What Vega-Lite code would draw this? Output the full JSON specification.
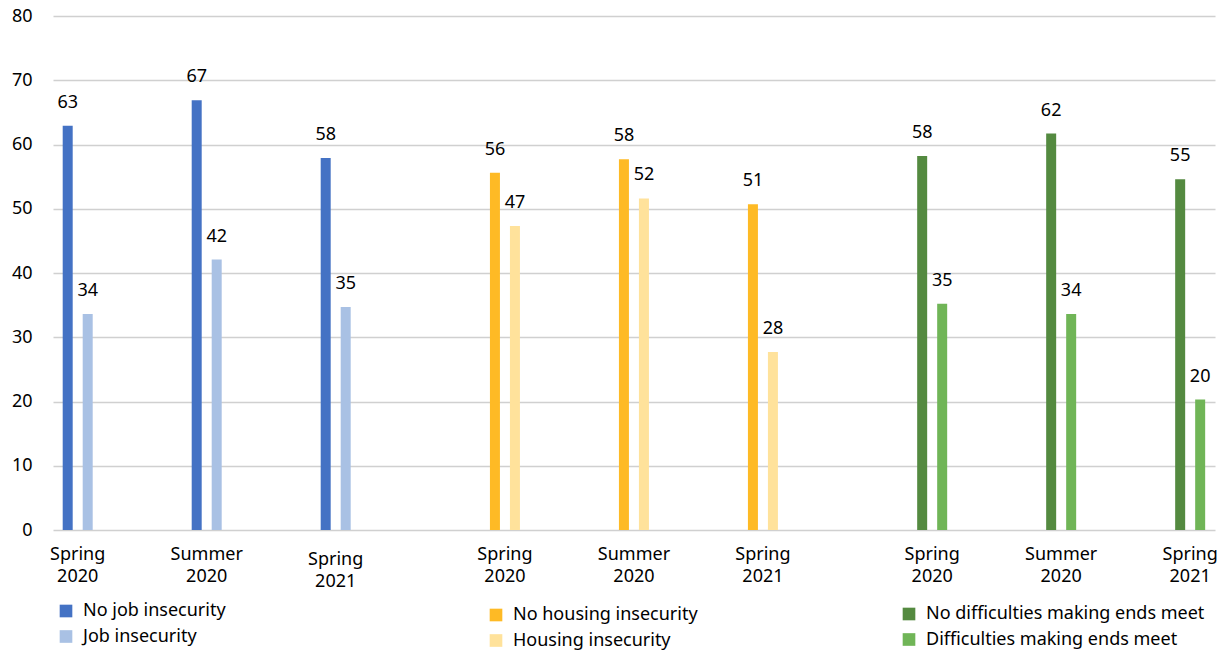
{
  "$schema": "https://vega.github.io/schema/vega-lite/v6.json",
  "width": 1162,
  "height": 514,
  "autosize": "none",
  "padding": {"left": 53, "top": 16, "right": 12, "bottom": 121},
  "background": "white",
  "config": {
    "view": {"stroke": null},
    "font": "Noto Sans",
    "text": {"font": "Noto Sans", "fontSize": 18, "color": "#000000"},
    "axis": {"labelFont": "Noto Sans", "labelFontSize": 18, "labelColor": "#000000"},
    "legend": {"labelFont": "Noto Sans", "labelFontSize": 18, "labelColor": "#000000", "labelLimit": 400}
  },
  "data": {
    "values": [
      {"domain": "job", "period": "Spring 2020", "kind": "no", "slot": 0, "series": "No job insecurity", "value": 62.9},
      {"domain": "job", "period": "Spring 2020", "kind": "yes", "slot": 0, "series": "Job insecurity", "value": 33.6},
      {"domain": "job", "period": "Summer 2020", "kind": "no", "slot": 1, "series": "No job insecurity", "value": 66.9},
      {"domain": "job", "period": "Summer 2020", "kind": "yes", "slot": 1, "series": "Job insecurity", "value": 42.1},
      {"domain": "job", "period": "Spring 2021", "kind": "no", "slot": 2, "series": "No job insecurity", "value": 57.9},
      {"domain": "job", "period": "Spring 2021", "kind": "yes", "slot": 2, "series": "Job insecurity", "value": 34.7},
      {"domain": "housing", "period": "Spring 2020", "kind": "no", "slot": 3.312, "series": "No housing insecurity", "value": 55.6},
      {"domain": "housing", "period": "Spring 2020", "kind": "yes", "slot": 3.312, "series": "Housing insecurity", "value": 47.3},
      {"domain": "housing", "period": "Summer 2020", "kind": "no", "slot": 4.312, "series": "No housing insecurity", "value": 57.7},
      {"domain": "housing", "period": "Summer 2020", "kind": "yes", "slot": 4.312, "series": "Housing insecurity", "value": 51.6},
      {"domain": "housing", "period": "Spring 2021", "kind": "no", "slot": 5.312, "series": "No housing insecurity", "value": 50.7},
      {"domain": "housing", "period": "Spring 2021", "kind": "yes", "slot": 5.312, "series": "Housing insecurity", "value": 27.7},
      {"domain": "ends", "period": "Spring 2020", "kind": "no", "slot": 6.624, "series": "No difficulties making ends meet", "value": 58.2},
      {"domain": "ends", "period": "Spring 2020", "kind": "yes", "slot": 6.624, "series": "Difficulties making ends meet", "value": 35.2},
      {"domain": "ends", "period": "Summer 2020", "kind": "no", "slot": 7.624, "series": "No difficulties making ends meet", "value": 61.7},
      {"domain": "ends", "period": "Summer 2020", "kind": "yes", "slot": 7.624, "series": "Difficulties making ends meet", "value": 33.6},
      {"domain": "ends", "period": "Spring 2021", "kind": "no", "slot": 8.624, "series": "No difficulties making ends meet", "value": 54.6},
      {"domain": "ends", "period": "Spring 2021", "kind": "yes", "slot": 8.624, "series": "Difficulties making ends meet", "value": 20.3}
    ]
  },
  "encoding": {
    "x": {"field": "slot", "type": "quantitative", "scale": {"domain": [-0.1915, 8.8165], "nice": false, "zero": false, "padding": 0}, "axis": null},
    "y": {"field": "value", "type": "quantitative", "scale": {"domain": [0, 80], "nice": false},
      "axis": {"title": null, "values": [0, 10, 20, 30, 40, 50, 60, 70, 80], "grid": true, "gridColor": "#d0d0d0", "gridWidth": 1.3, "domain": false, "ticks": false, "labelPadding": 21}}
  },
  "layer": [
    {
      "transform": [{"filter": "datum.domain == 'job' && datum.kind == 'no'"}],
      "mark": {"type": "bar", "width": 10, "xOffset": -10},
      "encoding": {"color": {"field": "series", "type": "nominal",
        "scale": {"domain": ["No job insecurity", "Job insecurity"], "range": ["#4472C4", "#A9C1E4"]},
        "legend": {"title": null, "orient": "none", "legendX": 4, "legendY": 586, "symbolType": "square", "symbolSize": 160, "symbolStrokeWidth": 0, "labelOffset": 8, "rowPadding": 7.5}}}
    },
    {
      "transform": [{"filter": "datum.domain == 'job' && datum.kind == 'yes'"}],
      "mark": {"type": "bar", "width": 10, "xOffset": 10},
      "encoding": {"color": {"field": "series", "type": "nominal",
        "scale": {"domain": ["No job insecurity", "Job insecurity"], "range": ["#4472C4", "#A9C1E4"]}, "legend": null}}
    },
    {
      "transform": [{"filter": "datum.domain == 'housing' && datum.kind == 'no'"}],
      "mark": {"type": "bar", "width": 10, "xOffset": -10},
      "encoding": {"color": {"field": "series", "type": "nominal",
        "scale": {"domain": ["No housing insecurity", "Housing insecurity"], "range": ["#FEBA25", "#FFE29B"]},
        "legend": {"title": null, "orient": "none", "legendX": 434, "legendY": 590, "symbolType": "square", "symbolSize": 160, "symbolStrokeWidth": 0, "labelOffset": 8, "rowPadding": 7.5}}}
    },
    {
      "transform": [{"filter": "datum.domain == 'housing' && datum.kind == 'yes'"}],
      "mark": {"type": "bar", "width": 10, "xOffset": 10},
      "encoding": {"color": {"field": "series", "type": "nominal",
        "scale": {"domain": ["No housing insecurity", "Housing insecurity"], "range": ["#FEBA25", "#FFE29B"]}, "legend": null}}
    },
    {
      "transform": [{"filter": "datum.domain == 'ends' && datum.kind == 'no'"}],
      "mark": {"type": "bar", "width": 10, "xOffset": -10},
      "encoding": {"color": {"field": "series", "type": "nominal",
        "scale": {"domain": ["No difficulties making ends meet", "Difficulties making ends meet"], "range": ["#548A40", "#70B557"]},
        "legend": {"title": null, "orient": "none", "legendX": 847, "legendY": 589, "symbolType": "square", "symbolSize": 160, "symbolStrokeWidth": 0, "labelOffset": 8, "rowPadding": 7.5}}}
    },
    {
      "transform": [{"filter": "datum.domain == 'ends' && datum.kind == 'yes'"}],
      "mark": {"type": "bar", "width": 10, "xOffset": 10},
      "encoding": {"color": {"field": "series", "type": "nominal",
        "scale": {"domain": ["No difficulties making ends meet", "Difficulties making ends meet"], "range": ["#548A40", "#70B557"]}, "legend": null}}
    },
    {
      "transform": [{"filter": "datum.kind == 'no'"}],
      "mark": {"type": "text", "xOffset": -10, "dy": -18, "baseline": "alphabetic", "align": "center"},
      "encoding": {"text": {"field": "value", "type": "quantitative", "format": ".0f"}}
    },
    {
      "transform": [{"filter": "datum.kind == 'yes'"}],
      "mark": {"type": "text", "xOffset": 10, "dy": -18, "baseline": "alphabetic", "align": "center"},
      "encoding": {"text": {"field": "value", "type": "quantitative", "format": ".0f"}}
    },
    {
      "transform": [{"filter": "datum.kind == 'no' && !(datum.domain == 'job' && datum.period == 'Spring 2021')"}],
      "mark": {"type": "text", "dy": 30, "baseline": "alphabetic", "align": "center", "lineBreak": " ", "lineHeight": 22},
      "encoding": {"y": {"datum": 0}, "text": {"field": "period", "type": "nominal"}}
    },
    {
      "transform": [{"filter": "datum.kind == 'no' && datum.domain == 'job' && datum.period == 'Spring 2021'"}],
      "mark": {"type": "text", "dy": 35, "baseline": "alphabetic", "align": "center", "lineBreak": " ", "lineHeight": 22},
      "encoding": {"y": {"datum": 0}, "text": {"field": "period", "type": "nominal"}}
    }
  ],
  "resolve": {"scale": {"color": "independent"}}
}
